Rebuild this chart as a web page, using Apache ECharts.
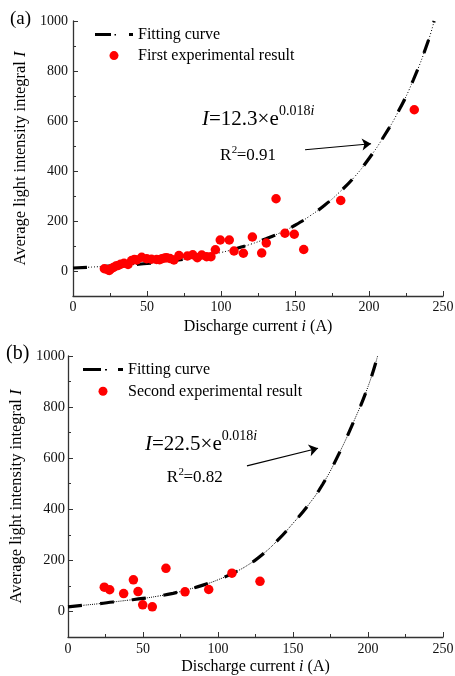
<!DOCTYPE html>
<html>
<head>
<meta charset="utf-8">
<script src="https://cdn.jsdelivr.net/npm/echarts@6/dist/echarts.min.js"></script>
<style>
  html, body { margin: 0; padding: 0; background: #fff; }
  #chart { width: 455px; height: 676px; }
</style>
</head>
<body>
<div id="chart"></div>
<script>
// ---- Run (a): first experiment ----
const runAPoints = [
  [21.2, 9], [23.5, 5], [24.5, 2], [26, 10], [27.3, 14], [29, 20], [30.5, 22],
  [32.2, 27], [34.5, 31], [37.2, 26], [39.6, 42], [41.5, 46], [43, 44], [46.4, 55],
  [49.8, 49], [53, 47], [56.5, 46], [58.5, 45], [60, 49], [62, 52], [63.3, 53],
  [65.5, 50], [68.2, 44], [71.6, 62], [77.3, 60], [80.9, 65], [84, 53], [87, 64],
  [90.3, 57], [93.2, 57], [96.2, 85], [99.5, 124], [105.6, 124], [108.8, 80],
  [115.1, 71], [121.2, 136], [127.5, 72], [130.6, 112], [137.2, 289], [143.2, 151],
  [149.5, 147], [155.9, 86], [180.9, 282], [230.6, 645]
];
const runAFitCurrent   = [0, 10, 20, 30, 40, 50, 60, 70, 80, 90, 100, 110, 120, 130, 140, 150, 160, 170, 180, 190, 200, 210, 220, 230, 240, 244];
const runAFitIntensity = [12, 15, 18, 21, 25, 30, 36, 43, 52, 62, 74, 89, 107, 128, 153, 183, 220, 263, 315, 375, 450, 538, 640, 765, 920, 1000];
const runAArrow = [[156.8, 485], [201.4, 509]];

// ---- Run (b): second experiment ----
const runBPoints = [
  [24.2, 95], [27.8, 85], [37.1, 70], [43.6, 124], [46.7, 78], [49.8, 26],
  [56.2, 18], [65.3, 169], [78, 77], [93.8, 86], [109.3, 150], [128, 118]
];
const runBFitCurrent   = [0, 10, 20, 30, 40, 50, 60, 70, 80, 90, 100, 110, 120, 130, 140, 150, 160, 170, 180, 190, 200, 206.4];
const runBFitIntensity = [18, 24, 30, 37, 44, 51, 60, 71, 86, 103, 124, 150, 182, 225, 280, 345, 415, 500, 610, 737, 880, 1000];
const runBArrow = [[119.3, 570], [166.7, 639]];

// ---- Axis ticks ----
const currentTicks = [0, 50, 100, 150, 200, 250];
const intensityTicks = [0, 200, 400, 600, 800, 1000];
const intensityMinorTicks = [100, 300, 500, 700, 900];

const SERIF = "'Liberation Serif', 'Times New Roman', serif";
const INK = '#000';
const AXIS_INK = '#333';

function zip(xs, ys) { return xs.map((x, k) => [x, ys[k]]); }
const plain = (v) => String(v);

function xAxisFor(gridIndex, labelMargin, nameGap) {
  return {
    type: 'value', gridIndex, min: 0, max: 250, interval: 50,
    position: 'bottom',
    axisLine: { show: true, onZero: false, lineStyle: { color: AXIS_INK, width: 1.3 } },
    axisTick: { show: true, inside: true, length: 5, lineStyle: { color: AXIS_INK, width: 1 } },
    minorTick: { show: true, splitNumber: 2, length: 3, lineStyle: { color: AXIS_INK, width: 1 } },
    axisLabel: { show: true, margin: labelMargin, color: '#111', fontFamily: SERIF, fontSize: 14, customValues: currentTicks, formatter: plain },
    splitLine: { show: false },
    name: 'Discharge current {it|i} (A)',
    nameLocation: 'middle', nameGap,
    nameTextStyle: {
      fontFamily: SERIF, fontSize: 16, color: INK,
      rich: { it: { fontFamily: SERIF, fontSize: 16, fontStyle: 'italic', color: INK } }
    }
  };
}

function yAxisFor(gridIndex, labelMargin, nameGap, labelSize) {
  return {
    type: 'value', gridIndex, min: -100, max: 1000, interval: 100,
    position: 'left',
    axisLine: { show: true, onZero: false, lineStyle: { color: AXIS_INK, width: 1.3 } },
    axisTick: { show: true, inside: true, length: 5, customValues: intensityTicks, lineStyle: { color: AXIS_INK, width: 1 } },
    axisLabel: { show: true, margin: labelMargin, color: '#111', fontFamily: SERIF, fontSize: labelSize, customValues: intensityTicks, formatter: plain },
    splitLine: { show: false },
    name: 'Average light intensity integral {it|I}',
    nameLocation: 'middle', nameGap,
    nameTextStyle: {
      fontFamily: SERIF, fontSize: 16.5, color: INK,
      rich: { it: { fontFamily: SERIF, fontSize: 16.5, fontStyle: 'italic', color: INK } }
    }
  };
}

function yMinorAxisFor(gridIndex) {
  return {
    type: 'value', gridIndex, min: -100, max: 1000, interval: 100,
    position: 'left',
    axisLine: { show: false },
    axisTick: { show: true, inside: true, length: 3, customValues: intensityMinorTicks, lineStyle: { color: AXIS_INK, width: 1 } },
    axisLabel: { show: false },
    splitLine: { show: false }
  };
}

function fitSeries(xIdx, yIdx, data, dotPattern) {
  return [
    { // thin dotted trace of the fit
      name: 'Fitting curve', type: 'line', xAxisIndex: xIdx, yAxisIndex: yIdx,
      data, symbol: 'none', smooth: 0.5, z: 2,
      itemStyle: { color: INK },
      lineStyle: { color: INK, width: 1, type: dotPattern }
    },
    { // heavy dashes over it
      name: 'Fitting curve', type: 'line', xAxisIndex: xIdx, yAxisIndex: yIdx,
      data, symbol: 'none', smooth: 0.5, z: 3,
      itemStyle: { color: INK },
      lineStyle: { color: INK, width: 3.2, type: [14, 18], cap: 'butt' }
    }
  ];
}

function pointSeries(name, xIdx, yIdx, data, arrow) {
  return {
    name, type: 'scatter', xAxisIndex: xIdx, yAxisIndex: yIdx,
    data, symbol: 'circle', symbolSize: 9.5, z: 4,
    itemStyle: { color: '#ff0000', opacity: 1 },
    markLine: {
      silent: true, symbol: ['none', 'arrow'], symbolSize: 9,
      label: { show: false },
      itemStyle: { color: INK },
      lineStyle: { color: INK, width: 1.2, type: 'solid' },
      data: [[{ coord: arrow[0] }, { coord: arrow[1] }]]
    }
  };
}

function legendFor(left, top, itemWidth, itemGap, pathIcon, pointName) {
  return {
    orient: 'vertical', left, top, itemWidth, itemHeight: 9, itemGap,
    selectedMode: false,
    itemStyle: { borderWidth: 0 },
    textStyle: { fontFamily: SERIF, fontSize: 16, color: INK },
    data: [
      { name: 'Fitting curve', icon: pathIcon },
      { name: pointName, icon: 'circle' }
    ]
  };
}

function label(text, x, y, size, rich) {
  return {
    type: 'text', x, y, silent: true,
    style: {
      text, fill: INK, fontFamily: SERIF, fontSize: size,
      verticalAlign: 'middle', align: 'left', rich: rich || {}
    }
  };
}

const italic = (size) => ({ it: { fontFamily: SERIF, fontSize: size, fontStyle: 'italic', fill: INK } });

const chart = echarts.init(document.getElementById('chart'), null, { renderer: 'canvas' });

chart.setOption({
  animation: false,
  backgroundColor: '#fff',
  grid: [
    { left: 73, top: 21, width: 370, height: 275, outerBoundsMode: 'none' },
    { left: 68, top: 356, width: 375, height: 281, outerBoundsMode: 'none' }
  ],
  xAxis: [xAxisFor(0, 4, 23), xAxisFor(1, 5.5, 22)],
  yAxis: [yAxisFor(0, 5, 40, 14), yMinorAxisFor(0), yAxisFor(1, 3, 36, 14.5), yMinorAxisFor(1)],
  legend: [
    legendFor(90, 21.6, 38, 5, 'path://M0 0H16V3H0Z M19.5 1H21V2.5H19.5Z M34 0H38V3H34Z', 'First experimental result'),
    legendFor(78, 356.6, 40, 5.7, 'path://M0 0H18V3H0Z M22 1H24V2.5H22Z M35 0H40V3H35Z', 'Second experimental result')
  ],
  series: [
    ...fitSeries(0, 0, zip(runAFitCurrent, runAFitIntensity), [1, 2]),
    pointSeries('First experimental result', 0, 0, runAPoints, runAArrow),
    ...fitSeries(1, 2, zip(runBFitCurrent, runBFitIntensity), [1, 1.2]),
    pointSeries('Second experimental result', 1, 2, runBPoints, runBArrow)
  ],
  graphic: [
    label('(a)', 10, 18.6, 19),
    label('(b)', 6, 353.3, 20),
    // panel (a) fit annotation
    label('{it|I}=12.3×e', 202, 119.6, 21, italic(21)),
    label('0.018{it|i}', 279, 111.3, 14, italic(14)),
    label('R', 220, 156, 17),
    label('2', 231.7, 150.5, 11),
    label('=0.91', 236.7, 156, 17),
    // panel (b) fit annotation
    label('{it|I}=22.5×e', 145, 444.6, 21, italic(21)),
    label('0.018{it|i}', 221.7, 436.3, 14, italic(14)),
    label('R', 166.7, 477.6, 17),
    label('2', 178.4, 472, 11),
    label('=0.82', 183.4, 477.6, 17)
  ]
});
</script>
</body>
</html>
